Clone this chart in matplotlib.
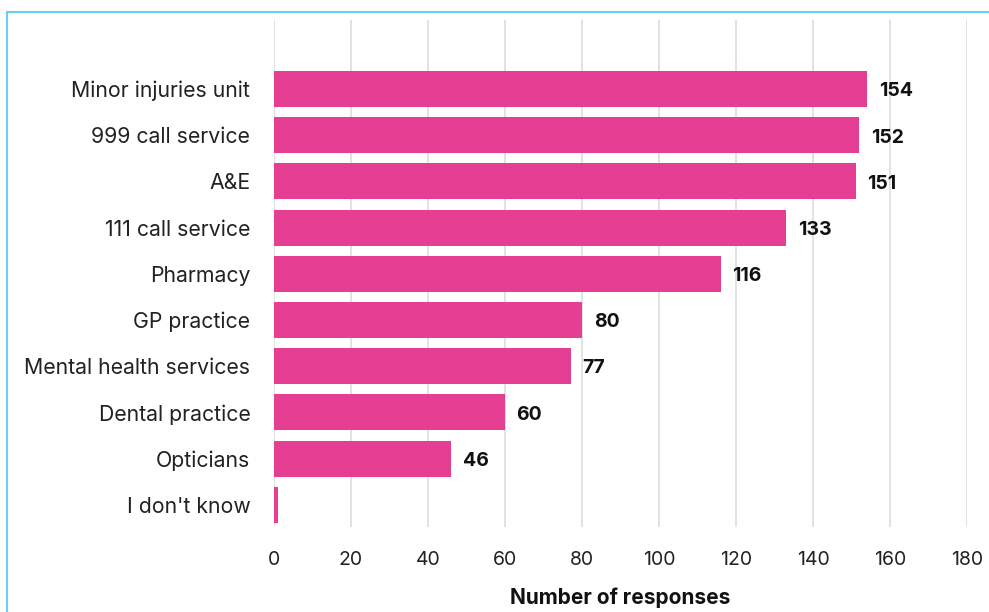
import matplotlib
matplotlib.use('Agg')
import matplotlib.pyplot as plt
from matplotlib.lines import Line2D

services = ['Minor injuries unit', '999 call service', 'A&E', '111 call service',
            'Pharmacy', 'GP practice', 'Mental health services', 'Dental practice',
            'Opticians', "I don't know"]
responses = [154, 152, 151, 133, 116, 80, 77, 60, 46, 1]
xticks = [0, 20, 40, 60, 80, 100, 120, 140, 160, 180]

plt.rcParams['font.family'] = ['Inter', 'DejaVu Sans']

fig = plt.figure(figsize=(9.89, 6.12), dpi=100)
ax = fig.add_axes([0.277, 0.139, 0.701, 0.828])

pos = list(range(len(services)))
ax.barh(pos, responses, height=0.78, color='#E63E92', zorder=2)
for y, v in zip(pos, responses):
    if v > 1:
        ax.text(v + 3, y + 0.05, str(v), va='center', ha='left', fontsize=14,
                fontweight='bold', color='#111111')

ax.set_xlim(0, 180)
ax.set_ylim(9.48, -1.49)
ax.set_xticks(xticks)
ax.set_yticks(pos)
ax.set_yticklabels(services, fontsize=15.3)
ax.tick_params(axis='both', length=0, colors='#222222')
ax.tick_params(axis='x', labelsize=14, pad=17)
ax.tick_params(axis='y', pad=17)
ax.xaxis.grid(True, color='#DDDDDD', linewidth=1.2, zorder=0)
ax.set_axisbelow(True)
for s in ax.spines.values():
    s.set_visible(False)
ax.set_xlabel('Number of responses', fontsize=15, fontweight='bold',
              color='#111111', labelpad=14)

# thin frame along the top and left edges
fig.add_artist(Line2D([7 / 989, 1], [1 - 12 / 612, 1 - 12 / 612],
                      transform=fig.transFigure, color='#6CCFF2', linewidth=1.5))
fig.add_artist(Line2D([7 / 989, 7 / 989], [0, 1 - 12 / 612],
                      transform=fig.transFigure, color='#6CCFF2', linewidth=1.5))

fig.savefig('out.png', dpi=100)
